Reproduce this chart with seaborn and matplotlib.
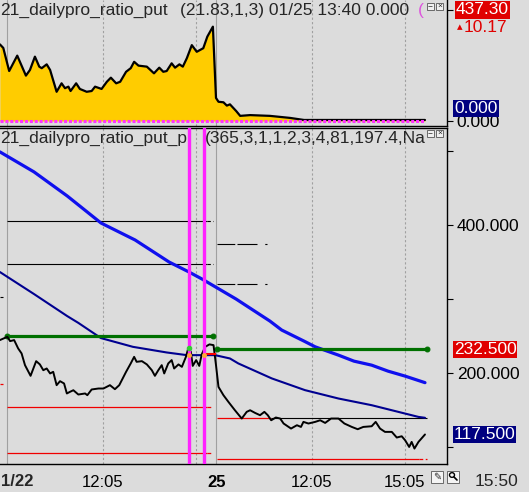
import numpy as np
import pandas as pd
import matplotlib.pyplot as plt
import seaborn as sns
from matplotlib.patches import Rectangle, Circle
from matplotlib.lines import Line2D

# x = hours since 01/22 09:00 (01/25 session opens at 6.75)
ratio_t = [-0.23, -0.12, 0.07, 0.33, 0.61, 0.74, 0.90, 1.04, 1.12, 1.28, 1.39, 1.60, 1.76,
           1.87, 1.98, 2.05, 2.23, 2.35, 2.57, 2.73, 2.84, 3.05, 3.22, 3.35, 3.52, 3.65,
           3.84, 3.99, 4.10, 4.24, 4.51, 4.74, 4.91, 5.04, 5.15, 5.31, 5.42, 5.56, 5.67,
           5.80, 5.96, 6.12, 6.33, 6.46, 6.64, 6.74, 6.82, 6.98, 7.09, 7.19, 7.39, 7.52,
           7.84, 8.48, 9.13, 9.58, 10.65, 11.74, 13.48]
ratio_v = [299, 285, 195, 255, 177, 199, 251, 212, 206, 221, 199, 114, 147,
           128, 134, 117, 147, 125, 114, 117, 134, 125, 153, 169, 147, 153,
           192, 206, 231, 216, 212, 186, 208, 192, 195, 225, 208, 221, 212,
           245, 296, 270, 284, 329, 368, 90, 75, 73, 60, 65, 39, 20,
           23, 20, 12, 4, 4, 4, 4]

price_t = [-0.23, -0.06, 0.01, 0.10, 0.23, 0.36, 0.47, 0.58, 0.76, 0.85, 0.94, 1.06, 1.17,
           1.28, 1.39, 1.49, 1.60, 1.71, 1.84, 1.93, 2.03, 2.14, 2.30, 2.52, 2.59, 2.73,
           2.95, 3.11, 3.32, 3.48, 3.62, 3.84, 3.99, 4.10, 4.18, 4.35, 4.51, 4.67, 4.77,
           4.88, 4.99, 5.07, 5.20, 5.31, 5.39, 5.53, 5.64, 5.77, 5.85, 5.93, 5.99, 6.10,
           6.20, 6.28, 6.39, 6.53, 6.66, 6.74, 6.82, 6.98, 7.14, 7.35, 7.57, 7.73, 7.84,
           8.00, 8.16, 8.30, 8.41, 8.52, 8.67, 8.81, 8.92, 9.16, 9.35, 9.48, 9.56, 9.72,
           9.94, 10.10, 10.26, 10.45, 10.69, 10.88, 11.12, 11.31, 11.49, 11.76, 11.89,
           12.03, 12.19, 12.41, 12.57, 12.73, 12.84, 12.97, 13.05, 13.14, 13.27, 13.48]
price_v = [244.8, 247.9, 249.2, 243.4, 244.8, 233.5, 226.8, 211.0, 196.6, 206.5, 216.4, 212.0, 204.2,
           206.5, 199.8, 202.0, 184.0, 189.4, 186.3, 172.8, 175.0, 177.2, 171.4, 172.8, 170.5, 178.2,
           179.5, 179.5, 184.0, 178.6, 184.0, 202.0, 213.3, 222.2, 215.5, 216.4, 212.0, 204.2, 196.6,
           204.2, 211.0, 199.8, 213.3, 217.8, 206.5, 212.0, 208.7, 222.2, 234.4, 229.0, 210.0, 217.8,
           210.0, 225.4, 235.7, 239.0, 238.0, 211.0, 181.7, 170.5, 161.5, 150.2, 139.0, 148.0, 150.2,
           146.6, 143.5, 148.0, 143.5, 136.7, 140.4, 139.0, 132.3, 125.5, 130.0, 127.7, 134.5, 132.3,
           134.5, 136.7, 133.1, 139.0, 139.0, 132.3, 127.7, 124.6, 127.7, 128.6, 134.5,
           125.5, 121.0, 121.0, 113.4, 115.1, 109.7, 100.7, 107.5, 98.5, 107.5, 117.5]

fast_t = [-0.23, 0.87, 1.94, 3.03, 4.13, 5.23, 5.87, 6.29, 6.84, 7.39, 8.48, 8.86, 9.58,
          9.94, 10.69, 11.19, 11.76, 12.29, 12.84, 13.48]
fast_v = [498.6, 471.6, 439.2, 402.7, 379.8, 350.0, 336.6, 327.1, 313.6, 300.1, 270.4, 258.3,
          243.4, 235.7, 224.5, 216.4, 211.0, 202.9, 196.2, 187.4]

slow_t = [-0.23, 0.87, 1.94, 2.30, 3.03, 4.06, 5.15, 5.80, 6.71, 7.19, 7.46, 8.54, 9.61,
          10.69, 11.76, 12.62, 13.27, 13.48]
slow_v = [336.6, 306.9, 277.2, 268.0, 247.5, 235.7, 228.1, 224.5, 224.5, 220.0, 213.3, 193.1,
          177.3, 166.0, 157.0, 148.0, 141.2, 140.0]

day1_black = [406, 348]
day1_red = [154, 93]
day1_green = 250
day2_dash = [375, 320]
day2_mid = 140
day2_red = 84
day2_green = 232.5
signal_t = [5.88, 6.34]

grid_solid = [0, 6.75]
grid_dotted = [3.083, 6.083, 9.833, 12.833]
x_ticks = [3.083, 6.75, 9.833, 12.833]
x_labels = ['12:05', '25', '12:05', '15:05']

sns.set_style("white")
plt.rcParams['font.family'] = ['Liberation Sans', 'DejaVu Sans']
plt.rcParams['font.size'] = 12.5

bg = '#dcdcdc'
fig = plt.figure(figsize=(5.29, 4.92), dpi=100, facecolor=bg)
ax1 = fig.add_axes([0, 366 / 492, 447 / 529, 126 / 492], facecolor=bg)
ax2 = fig.add_axes([0, 28 / 492, 447 / 529, 336 / 492], facecolor=bg)

for ax in (ax1, ax2):
    ax.set_xlim(-0.226, 14.19)
    for x in grid_solid:
        ax.axvline(x, color='#a0a0a0', lw=0.8, zorder=0)
    for x in grid_dotted:
        ax.axvline(x, color='#a0a0a0', lw=0.8, ls=(0, (2, 2)), zorder=0)
    ax.spines['left'].set_visible(False)
    for s in ('right', 'bottom', 'top'):
        ax.spines[s].set_color('black')
        ax.spines[s].set_linewidth(1.0)
    ax.yaxis.tick_right()
    ax.tick_params(axis='y', length=4, width=0.8, pad=3, labelsize=12.5, colors='black')

# top panel
ax1.fill_between(ratio_t, ratio_v, 0, color='#ffcc00', lw=0, zorder=1)
sns.lineplot(x=ratio_t, y=ratio_v, ax=ax1, color='black', lw=1.6, estimator=None, zorder=2)
sns.lineplot(x=[ratio_t[0], ratio_t[-1]], y=[0, 0], ax=ax1, color='#ff33ff', lw=2.2,
             ls=(0, (1, 0.6)), estimator=None, zorder=3)
ax1.set_ylim(-19.5, 472)
ax1.spines['top'].set_visible(False)
ax1.set_xticks([])
ax1.set_yticks([0, 433])
ax1.set_yticklabels(['0.000', ''])
ax1.set_xlabel('')
ax1.set_ylabel('')
ax1.text(0.0, 0.915, '21_dailypro_ratio_put', transform=ax1.transAxes, ha='left',
         va='center', fontsize=12.5)
ax1.text(180 / 447, 0.915, '(21.83,1,3) 01/25 13:40 0.000', transform=ax1.transAxes,
         ha='left', va='center', fontsize=12.5)
ax1.text(418 / 447, 0.915, '(', transform=ax1.transAxes, ha='left', va='center',
         fontsize=12.5, color='#dd55dd')
ax1.text(1.02, 433, '437.30', transform=ax1.get_yaxis_transform(), color='white',
         ha='left', va='center', fontsize=12.5, clip_on=False, zorder=6,
         bbox=dict(facecolor='#e00000', edgecolor='none', pad=0.8))
ax1.text(1.022, 368, '\u25b4', transform=ax1.get_yaxis_transform(), color='#e00000',
         ha='left', va='center', fontsize=8, clip_on=False, family=['DejaVu Sans'])
ax1.text(1.037, 365, '10.17', transform=ax1.get_yaxis_transform(), color='#e00000',
         ha='left', va='center', fontsize=12.5, clip_on=False)
ax1.text(1.016, 50, '0.000', transform=ax1.get_yaxis_transform(), color='white',
         ha='left', va='center', fontsize=12.5, clip_on=False, zorder=6,
         bbox=dict(facecolor='#000080', edgecolor='none', pad=0.8))

# bottom panel
sns.lineplot(x=fast_t, y=fast_v, ax=ax2, color='#1010ee', lw=2.3, estimator=None, zorder=3)
sns.lineplot(x=slow_t, y=slow_v, ax=ax2, color='#000090', lw=1.5, estimator=None, zorder=3)

red = '#f00000'
ax2.hlines(day1_black, 0, 6.45, color='black', lw=0.8, zorder=2)
ax2.hlines(day1_black, 6.45, 6.65, color='black', lw=0.8, linestyles=(0, (3, 2)), zorder=2)
ax2.hlines(day1_red, 0, 6.45, color=red, lw=0.9, zorder=2)
ax2.hlines(day1_red, 6.45, 6.65, color=red, lw=0.9, linestyles=(0, (3, 2)), zorder=2)
ax2.hlines(day2_dash, 6.77, 8.84, color='black', lw=0.8,
           linestyles=(0, (16, 2, 18, 7, 2, 100)), zorder=2)
ax2.hlines(day2_mid, 6.77, 8.5, color=red, lw=0.9, zorder=2)
ax2.hlines(day2_mid, 8.5, 13.55, color='black', lw=0.8, zorder=2)
ax2.hlines(day2_red, 6.77, 13.3, color=red, lw=0.9, zorder=2)
ax2.hlines(day2_red, 13.3, 13.55, color=red, lw=0.9, linestyles=(0, (3, 2)), zorder=2)
ax2.hlines([302.8], -0.23, -0.12, color='black', lw=0.8, zorder=2)
ax2.hlines([185.4], -0.23, -0.12, color=red, lw=0.9, zorder=2)

sns.lineplot(x=[0, 6.65], y=[day1_green, day1_green], ax=ax2, color='#007000', lw=2.3,
             marker='o', ms=3.5, mec='#007000', estimator=None, zorder=3)
sns.lineplot(x=[6.78, 13.55], y=[day2_green, day2_green], ax=ax2, color='#007000', lw=2.3,
             marker='o', ms=3.5, mec='#007000', estimator=None, zorder=3)

sns.lineplot(x=price_t, y=price_v, ax=ax2, color='black', lw=1.4, estimator=None, zorder=4)
ax2.hlines([226], 6.34, 6.74, color='#ff0000', lw=1.5, zorder=5)
ax2.plot([5.88], [234], 'o', color='#33cc33', ms=3, zorder=6)
ax2.plot([5.88, 6.34], [225, 225], 'o', color='#ffaa33', ms=2.5, ls='none', zorder=6)

for t in signal_t:
    ax2.axvline(t, color='#ff22ff', lw=2.4, zorder=5)

ax2.set_ylim(77.7, 530.8)
ax2.set_yticks([100, 200, 300, 400, 500])
ax2.set_yticklabels(['', '200.000', '', '400.000', ''])
ax2.set_xticks(x_ticks)
ax2.set_xticklabels(x_labels)
ax2.get_xticklabels()[1].set_fontweight('bold')
ax2.tick_params(axis='x', length=3, width=0.8, pad=5, labelsize=12, colors='black')
ax2.set_xlabel('')
ax2.set_ylabel('')
ax2.text(0.0, 0.97, '21_dailypro_ratio_put_p', transform=ax2.transAxes, ha='left',
         va='center', fontsize=12.5, zorder=4)
ax2.text(205 / 447, 0.97, '(365,3,1,1,2,3,4,81,197.4,Na', transform=ax2.transAxes,
         ha='left', va='center', fontsize=12.5, zorder=6)
ax2.text(1.015, day2_green, '232.500', transform=ax2.get_yaxis_transform(), color='white',
         ha='left', va='center', fontsize=12.5, clip_on=False, zorder=6,
         bbox=dict(facecolor='#e00000', edgecolor='none', pad=0.8))
ax2.text(1.015, price_v[-1], '117.500', transform=ax2.get_yaxis_transform(), color='white',
         ha='left', va='center', fontsize=12.5, clip_on=False, zorder=6,
         bbox=dict(facecolor='#000080', edgecolor='none', pad=0.8))

fig.text(0.5 / 529, 1 - 481 / 492, '1/22', ha='left', va='center', fontsize=12,
         fontweight='bold')
fig.text(497 / 529, 1 - 481 / 492, '15:50', ha='center', va='center', fontsize=12.5)


def px_box(x0, y0, w, h, **kw):
    r = Rectangle((x0 / 529, 1 - (y0 + h) / 492), w / 529, h / 492,
                  transform=fig.transFigure, **kw)
    fig.add_artist(r)


# panel buttons
for y0 in (3, 130):
    px_box(427, y0, 7, 7, facecolor='#f0f0f0', edgecolor='#555555', lw=0.6)
    px_box(436, y0, 7, 7, facecolor='#f0f0f0', edgecolor='#555555', lw=0.6)
    fig.text(430.5 / 529, 1 - (y0 + 3.5) / 492, '\u2212', ha='center', va='center', fontsize=6)
    fig.text(439.5 / 529, 1 - (y0 + 3.5) / 492, '\u00d7', ha='center', va='center', fontsize=6)

# toolbar icons
px_box(431, 471, 12, 12, facecolor='#f4f4f4', edgecolor='#555555', lw=0.6)
px_box(447, 471, 12, 12, facecolor='#f4f4f4', edgecolor='#555555', lw=0.6)
fig.text(437 / 529, 1 - 477 / 492, '\u270e', ha='center', va='center', fontsize=7,
         family=['DejaVu Sans'])
fig.add_artist(Circle((452 / 529, 1 - 475 / 492), 2.5 / 529, transform=fig.transFigure,
                      fill=False, edgecolor='black', lw=1))
fig.add_artist(Line2D([454 / 529, 457 / 529], [1 - 477 / 492, 1 - 480 / 492],
                      transform=fig.transFigure, color='black', lw=1.2))

fig.savefig('out.png', dpi=100, facecolor=bg)
